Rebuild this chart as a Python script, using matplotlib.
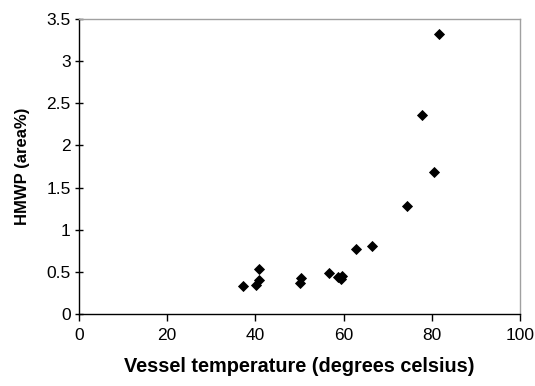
import matplotlib
matplotlib.use("Agg")
import matplotlib.pyplot as plt

# HMWP vs vessel temperature
temperatura = [37.3, 40.1, 40.8, 40.8, 50.3, 50.1, 56.8, 58.8, 59.3, 59.6, 62.8, 66.4, 74.3, 77.7, 80.4, 81.6]
hmwp = [0.33, 0.35, 0.40, 0.53, 0.43, 0.37, 0.49, 0.44, 0.41, 0.45, 0.77, 0.81, 1.28, 2.36, 1.68, 3.32]

x_ticks = [0, 20, 40, 60, 80, 100]
y_ticks = [0, 0.5, 1, 1.5, 2, 2.5, 3, 3.5]
y_labels = ["0", "0.5", "1", "1.5", "2", "2.5", "3", "3.5"]

plt.rcParams["font.family"] = ["Liberation Sans", "DejaVu Sans"]

fig = plt.figure(figsize=(5.35, 3.86), dpi=100)
ax = fig.add_axes([79 / 535, 1 - 314 / 386, (520 - 79) / 535, (314 - 19) / 386])

ax.plot(temperatura, hmwp, "D", color="black", markersize=5.5, markeredgewidth=0.6, clip_on=False)

ax.set_xlim(0, 100)
ax.set_ylim(0, 3.5)
ax.set_xticks(x_ticks)
ax.set_yticks(y_ticks)
ax.set_yticklabels(y_labels)

# eixos no estilo do Excel
ax.spines["left"].set_color("black")
ax.spines["bottom"].set_color("black")
ax.spines["top"].set_color("#a0a0a0")
ax.spines["right"].set_color("#a0a0a0")
for s in ax.spines.values():
    s.set_linewidth(1)
ax.tick_params(axis="x", direction="out", length=5, width=1, labelsize=12.5, pad=5)
ax.tick_params(axis="y", direction="inout", length=6, width=1, labelsize=12.5, pad=3)

ax.set_xlabel("Vessel temperature (degrees celsius)", fontsize=14.3, fontweight="bold", labelpad=10)
ax.set_ylabel("HMWP (area%)", fontsize=12, fontweight="bold", labelpad=12)

fig.savefig("out.png", dpi=100)
